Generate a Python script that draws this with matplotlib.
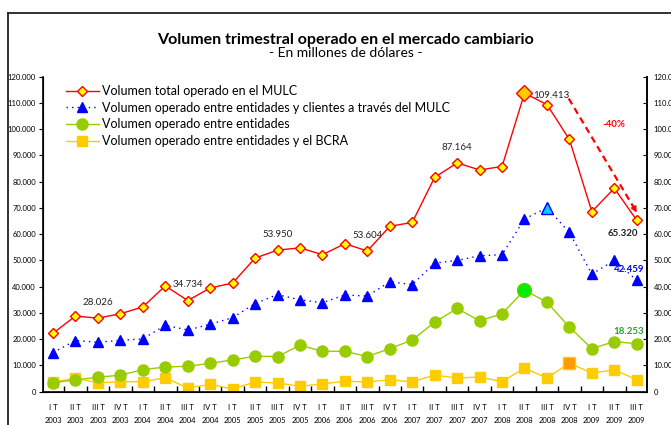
import numpy as np
import matplotlib
matplotlib.use("Agg")
import matplotlib.pyplot as plt
from matplotlib.lines import Line2D
from matplotlib.ticker import FuncFormatter, FixedLocator

plt.rcParams["font.family"] = ["Lato", "DejaVu Sans"]

quarters = ["I T", "II T", "III T", "IV T"]
years = [2003, 2004, 2005, 2006, 2007, 2008, 2009]
periods = [f"{q}\n{y}" for y in years for q in quarters][:27]

total_mulc = [22300, 28800, 28026, 29700, 32300, 40300, 34734, 39500, 41400, 50900,
              53950, 54800, 52200, 56400, 53604, 63000, 64500, 81700, 87164, 84500,
              85800, 113700, 109413, 96100, 68600, 77500, 65320]
clientes = [14900, 19500, 18800, 19600, 20100, 25300, 23500, 25700, 28200, 33600,
            37000, 35000, 33900, 36900, 36400, 41900, 40800, 49000, 50000, 51800,
            52200, 65800, 70100, 60700, 44800, 50000, 42459]
entidades = [3400, 4500, 5500, 6300, 8400, 9400, 9700, 10800, 12100, 13500,
             13400, 17700, 15400, 15400, 13400, 16400, 19700, 26500, 31700, 27000,
             29700, 38700, 34100, 24600, 16400, 19100, 18253]
bcra = [3700, 5100, 3400, 3800, 3800, 5300, 1400, 2800, 1000, 3700,
        3300, 2100, 2900, 4000, 3700, 4500, 3800, 6300, 5200, 5600,
        3800, 9000, 5200, 10900, 7100, 8300, 4600]

labels = ["Volumen total operado en el MULC",
          "Volumen operado entre entidades y clientes a través del MULC",
          "Volumen operado entre entidades",
          "Volumen operado entre entidades y el BCRA"]

x = np.arange(len(periods))

fig = plt.figure(figsize=(6.71, 4.25), dpi=100)
ax = fig.add_axes([0.064, 0.0784, 0.9, 0.741])

# outer frame (left and top edge visible)
fig.add_artist(Line2D([8 / 671, 8 / 671], [0, 1 - 13 / 425], color="#222222", lw=1.3))
fig.add_artist(Line2D([8 / 671, 1], [1 - 13 / 425, 1 - 13 / 425], color="#222222", lw=1.3))

ax.plot(x, bcra, color="#ffcc00", lw=1, marker="s", ms=7, mfc="#ffcc00", mec="#ffcc00",
        label=labels[3], zorder=2)
ax.plot(x, entidades, color="#99cc00", lw=1, marker="o", ms=8, mfc="#99cc00", mec="#99cc00",
        label=labels[2], zorder=3)
ax.plot(x, clientes, color="blue", lw=1, ls=(0, (1, 3)), marker="^", ms=7, mfc="blue",
        mec="blue", label=labels[1], zorder=4)
ax.plot(x, total_mulc, color="red", lw=1, marker="D", ms=5.5, mfc="#ffff00", mec="red",
        mew=1, label=labels[0], zorder=5)

# highlighted peaks
ax.plot(x[21], total_mulc[21], marker="D", ms=8, mfc="#ffcc00", mec="red", zorder=6)
ax.plot(x[22], clientes[22], marker="^", ms=9, mfc="#00ccff", mec="blue", zorder=6)
ax.plot(x[21], entidades[21], marker="o", ms=10, mfc="#00ee00", mec="#66cc00", zorder=6)
ax.plot(x[23], bcra[23], marker="s", ms=9, mfc="#ff9900", mec="#ffcc00", zorder=6)

# value labels
fmt = lambda v: f"{v:,.0f}".replace(",", ".")
for i, v in [(2, total_mulc[2]), (6, total_mulc[6]), (10, total_mulc[10]),
             (14, total_mulc[14]), (18, total_mulc[18])]:
    ax.text(i, v + 6000, fmt(v), ha="center", va="center", fontsize=7, color="#222222")
ax.text(22.2, total_mulc[22] + 3500, fmt(total_mulc[22]), ha="center", va="center",
        fontsize=7, color="#222222")
ax.text(25.4, total_mulc[26] - 5100, fmt(total_mulc[26]), ha="center", va="center",
        fontsize=7, fontweight="bold", color="#222222")
ax.text(25.65, clientes[26] + 4000, fmt(clientes[26]), ha="center", va="center",
        fontsize=7, fontweight="bold", color="blue")
ax.text(25.65, entidades[26] + 4800, fmt(entidades[26]), ha="center", va="center",
        fontsize=7, fontweight="bold", color="#339933")

# -40% trend arrow
ax.plot([22.97, 25.95], [111700, 69000], color="red", ls=(0, (3, 2)), lw=1.6, zorder=7)
ax.annotate("", xy=(26.05, 67300), xytext=(25.85, 70600),
            arrowprops=dict(arrowstyle="-|>", color="red", lw=1.2, mutation_scale=8))
ax.text(24.98, 101800, "-40%", ha="center", va="center", fontsize=7,
        fontweight="bold", color="red")

ax.set_xlim(-0.45, 26.45)
ax.set_ylim(0, 120000)
ax.spines["top"].set_visible(False)
for s in ["left", "right", "bottom"]:
    ax.spines[s].set_linewidth(1.2)
ax.set_xticks(x)
ax.set_xticklabels(periods, fontsize=5.5, linespacing=2.0)
ax.xaxis.set_minor_locator(FixedLocator(x[:-1] + 0.5))
ax.tick_params(axis="x", which="major", length=0, pad=9)
ax.tick_params(axis="x", which="minor", direction="in", length=4, width=1)

yt = np.arange(0, 120001, 10000)
ax.set_yticks(yt)
ax.yaxis.set_major_formatter(FuncFormatter(lambda v, p: fmt(v)))
ax.tick_params(axis="y", labelsize=5.5, length=3, direction="out", pad=2)
ax2 = ax.twinx()
ax2.set_ylim(ax.get_ylim())
ax2.set_yticks(yt)
ax2.yaxis.set_major_formatter(FuncFormatter(lambda v, p: fmt(v)))
ax2.tick_params(axis="y", labelsize=5.5, length=3, direction="in", pad=5)
ax2.spines["top"].set_visible(False)
ax2.spines["right"].set_linewidth(1.2)

h, l = ax.get_legend_handles_labels()
ax.legend(h[::-1], l[::-1], loc="upper left", bbox_to_anchor=(0.03, 0.99), frameon=False,
          fontsize=9, handlelength=2.6, handletextpad=0.3, labelspacing=0.38,
          borderaxespad=0)

fig.text(0.515, 1 - 40 / 425, "Volumen trimestral operado en el mercado cambiario",
         ha="center", va="center", fontsize=11.5, fontweight="bold")
fig.text(0.515, 1 - 53 / 425, "- En millones de dólares -", ha="center", va="center",
         fontsize=10)

fig.savefig("out.png", dpi=100)
